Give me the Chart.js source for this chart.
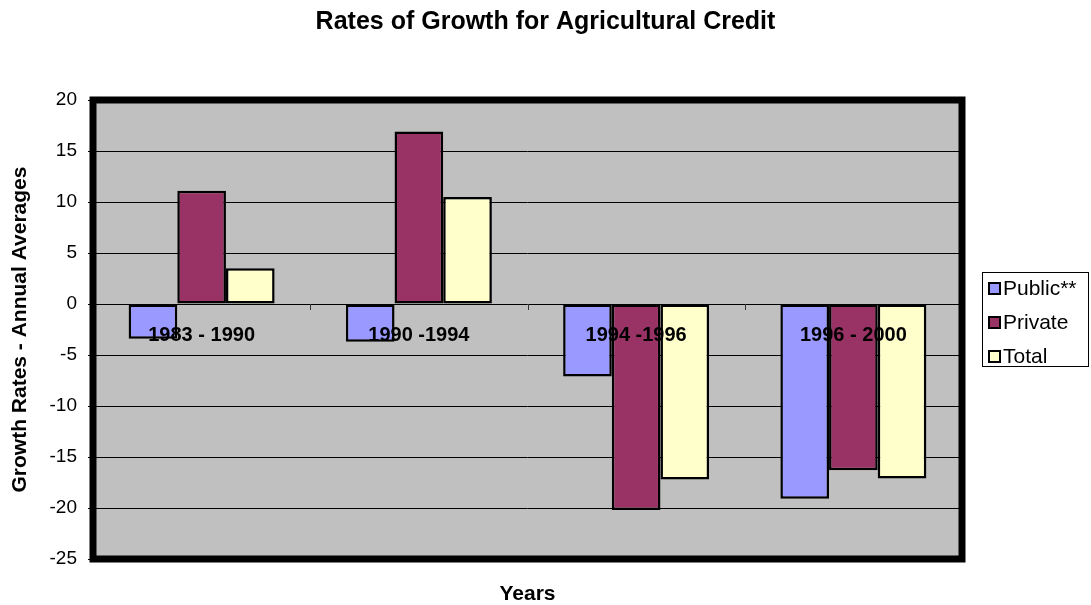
<!DOCTYPE html>
<html>
<head>
<meta charset="utf-8">
<title>Rates of Growth for Agricultural Credit</title>
<script src="https://cdn.jsdelivr.net/npm/chart.js@4.4.0/dist/chart.umd.min.js"></script>
<style>
    body { margin: 0; background: #fff; }
    .chart-box { width: 1091px; height: 605px; }
</style>
</head>
<body>
<div class="chart-box"><canvas id="growthChart"></canvas></div>
<script>
// Chart data
const periods = ['1983 - 1990', '1990 -1994', '1994 -1996', '1996 - 2000'];
const seriesNames = ['Public**', 'Private', 'Total'];
const publicRates = [-3.4, -3.7, -7.1, -19.1];
const privateRates = [11.1, 16.9, -20.2, -16.3];
const totalRates = [3.5, 10.5, -17.2, -17.1];
const yTicks = [20, 15, 10, 5, 0, -5, -10, -15, -20, -25];

const seriesColors = ['#9999FF', '#993366', '#FFFFCC'];
const FONT = 'Arial, "Liberation Sans", sans-serif';

Chart.defaults.font.family = FONT;
Chart.defaults.color = '#000';

// gray plot background + thick frame
const plotFrame = {
    id: 'plotFrame',
    beforeDraw(chart) {
        const { ctx, chartArea: a } = chart;
        ctx.save();
        ctx.fillStyle = '#C0C0C0';
        ctx.fillRect(a.left, a.top, a.right - a.left, a.bottom - a.top);
        ctx.restore();
    },
    afterDraw(chart) {
        const { ctx, chartArea: a } = chart;
        ctx.save();
        ctx.strokeStyle = '#000';
        ctx.lineWidth = 7;
        ctx.strokeRect(a.left, a.top, a.right - a.left, a.bottom - a.top);
        ctx.restore();
    }
};

// category names sit just under the zero line, over the bars
const zeroLabels = {
    id: 'zeroLabels',
    afterDatasetsDraw(chart) {
        const { ctx, scales: { x, y } } = chart;
        const zero = y.getPixelForValue(0);
        ctx.save();
        // small ticks between categories on the zero line
        ctx.strokeStyle = '#333';
        ctx.lineWidth = 1;
        for (let i = 0; i < periods.length - 1; i++) {
            const px = Math.round((x.getPixelForValue(i) + x.getPixelForValue(i + 1)) / 2) + 0.5;
            ctx.beginPath();
            ctx.moveTo(px, zero);
            ctx.lineTo(px, zero + 6);
            ctx.stroke();
        }
        ctx.fillStyle = '#000';
        ctx.font = 'bold 20px ' + FONT;
        ctx.textAlign = 'center';
        ctx.textBaseline = 'middle';
        periods.forEach((p, i) => {
            ctx.fillText(p, x.getPixelForValue(i), zero + 31);
        });
        ctx.restore();
    }
};

// boxed legend on the right
const boxLegend = {
    id: 'boxLegend',
    afterDraw(chart) {
        const { ctx } = chart;
        const left = 982, top = 272, w = 106, h = 94;
        ctx.save();
        ctx.strokeStyle = '#000';
        ctx.lineWidth = 1;
        ctx.strokeRect(left + 0.5, top + 0.5, w, h);
        ctx.font = '21px ' + FONT;
        ctx.textBaseline = 'middle';
        chart.data.datasets.forEach((ds, i) => {
            const cy = 288 + i * 34;
            ctx.fillStyle = ds.backgroundColor;
            ctx.fillRect(989, cy - 5, 11, 11);
            ctx.lineWidth = 2;
            ctx.strokeRect(989, cy - 5, 11, 11);
            ctx.fillStyle = '#000';
            ctx.fillText(ds.label, 1003, cy + 1);
        });
        ctx.restore();
    }
};

const ctx = document.getElementById('growthChart').getContext('2d');
const growthChart = new Chart(ctx, {
    type: 'bar',
    data: {
        labels: periods,
        datasets: [
            { label: seriesNames[0], data: publicRates, backgroundColor: seriesColors[0] },
            { label: seriesNames[1], data: privateRates, backgroundColor: seriesColors[1] },
            { label: seriesNames[2], data: totalRates, backgroundColor: seriesColors[2] }
        ]
    },
    options: {
        responsive: true,
        maintainAspectRatio: false,
        animation: false,
        layout: {
            padding: 0
        },
        datasets: {
            bar: {
                borderColor: '#000',
                borderWidth: 2.5,
                borderSkipped: false,
                categoryPercentage: 0.672,
                barPercentage: 1
            }
        },
        plugins: {
            legend: { display: false },
            tooltip: { enabled: false },
            title: {
                display: true,
                text: 'Rates of Growth for Agricultural Credit',
                color: '#000',
                font: { size: 25, weight: 'bold' },
                padding: { top: 7, bottom: 63 }
            }
        },
        scales: {
            x: {
                grid: { display: false, drawTicks: false },
                border: { display: false },
                ticks: { display: false },
                title: {
                    display: true,
                    text: 'Years',
                    color: '#000',
                    font: { size: 21, weight: 'bold', lineHeight: 1 },
                    padding: { top: 25, bottom: 0 }
                }
            },
            y: {
                min: yTicks[yTicks.length - 1],
                max: yTicks[0],
                afterFit(scale) { scale.width = 93; },
                afterBuildTicks(scale) { scale.ticks = yTicks.map(v => ({ value: v })); },
                grid: {
                    color: '#000',
                    lineWidth: 1,
                    tickLength: 5,
                    tickColor: '#000'
                },
                border: { display: false },
                ticks: {
                    color: '#000',
                    font: { size: 19 },
                    padding: 11
                },
                title: {
                    display: true,
                    text: 'Growth Rates - Annual Averages',
                    color: '#000',
                    font: { size: 21, weight: 'bold', lineHeight: 1 },
                    padding: { top: 10, bottom: 0 }
                }
            },
            // empty right-hand axis that only reserves room for the legend
            legendSpace: {
                type: 'linear',
                axis: 'y',
                position: 'right',
                afterFit(scale) { scale.width = 129; },
                grid: { display: false, drawTicks: false },
                border: { display: false },
                ticks: { display: false }
            }
        }
    },
    plugins: [plotFrame, zeroLabels, boxLegend]
});
</script>
</body>
</html>
